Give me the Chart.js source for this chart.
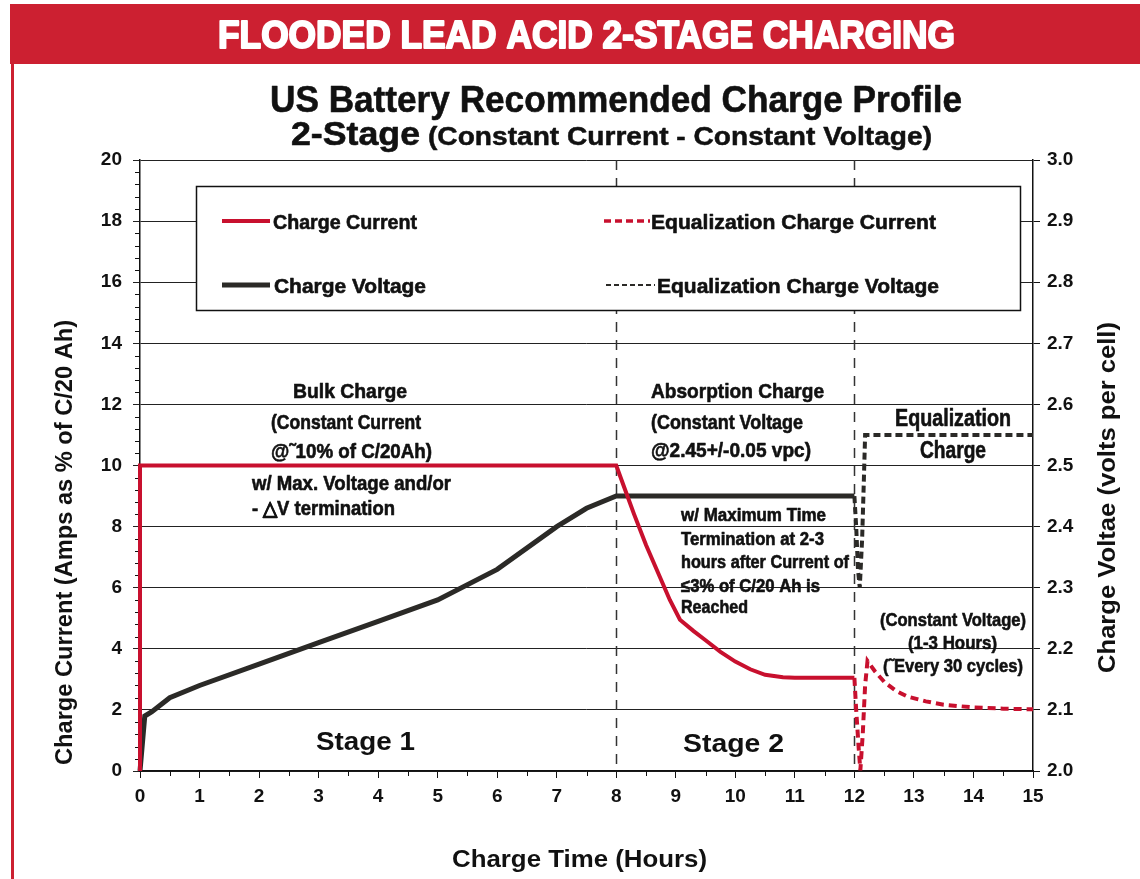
<!DOCTYPE html>
<html lang="en">
<head>
<meta charset="UTF-8">
<title>Flooded Lead Acid 2-Stage Charging</title>
<script src="https://cdn.jsdelivr.net/npm/chart.js"></script>
<style>
  html, body { margin: 0; padding: 0; background: #fff; }
  canvas { display: block; }
</style>
</head>
<body>
<canvas id="chargeChart" width="1140" height="879"></canvas>
<script>
// charge current, amps as % of C/20 Ah, against charge time in hours
const currentHours = [0, 0, 8, 8.15, 8.3, 8.5, 8.7, 8.9, 9.07, 9.3, 9.5, 9.75, 10, 10.25, 10.5, 10.8, 11, 12];
const currentAmps  = [0, 10, 10, 9.2, 8.4, 7.4, 6.5, 5.6, 4.95, 4.58, 4.28, 3.9, 3.58, 3.33, 3.15, 3.07, 3.05, 3.05];

const eqCurrentHours = [12, 12.03, 12.07, 12.1, 12.14, 12.18, 12.22, 12.35, 12.5, 12.7, 12.9, 13.2, 13.5, 14, 14.5, 15];
const eqCurrentAmps  = [3.05, 2.0, 0.8, 0.02, 1.2, 2.8, 3.6, 3.25, 2.92, 2.62, 2.43, 2.28, 2.17, 2.08, 2.04, 2.02];

// charge voltage, volts per cell
const voltageHours = [0, 0.08, 0.2, 0.5, 1, 2, 3, 4, 5, 6, 7, 7.5, 8, 12];
const voltageVpc   = [2.0, 2.09, 2.097, 2.12, 2.14, 2.175, 2.21, 2.245, 2.28, 2.33, 2.40, 2.43, 2.45, 2.45];

const eqVoltageHours = [12, 12.03, 12.06, 12.09, 12.13, 12.16, 12.18, 15];
const eqVoltageVpc   = [2.45, 2.40, 2.33, 2.30, 2.38, 2.48, 2.55, 2.55];

// stage boundaries (hours)
const stageBounds = [8, 12];

// axis ticks
const hourTicks = [0, 15, 1, 0.5];     // min, max, major step, minor step
const ampTicks  = [0, 20, 2, 0.4];
const voltTicks = [2.0, 3.0, 0.1];

const RED = '#C8102E';
const BANNER = '#CC2031';
const DARK = '#2B2A27';
const INK = '#111';
const SANS = "'Liberation Sans', Arial, sans-serif";
const NARROW = "'Liberation Sans Narrow', 'Liberation Sans', Arial, sans-serif";

// text drawn squeezed to the width measured on the reference
function drawText(ctx, t) {
  ctx.save();
  ctx.font = 'bold ' + t.size + 'px ' + (t.narrow ? NARROW : SANS);
  ctx.textBaseline = 'alphabetic';
  ctx.textAlign = 'left';
  const m = ctx.measureText(t.text).width;
  ctx.translate(t.x, t.y);
  if (t.rot) ctx.rotate(-Math.PI / 2);
  ctx.scale(t.w / m, 1);
  ctx.fillStyle = t.color || INK;
  ctx.fillText(t.text, 0, 0.36 * t.size);
  if (t.heavy) {
    ctx.strokeStyle = t.color || INK;
    ctx.lineWidth = t.heavy;
    ctx.lineJoin = 'round';
    ctx.strokeText(t.text, 0, 0.36 * t.size);
  }
  ctx.restore();
}

const headerTexts = [
  { text: 'FLOODED LEAD ACID 2-STAGE CHARGING', x: 218, y: 34, w: 737, size: 38, color: '#fff', heavy: 2 },
  { text: 'US Battery Recommended Charge Profile', x: 270, y: 98.5, w: 692, size: 37, narrow: true, heavy: 0.6 },
  { text: '2-Stage', x: 291, y: 133, w: 129, size: 34, narrow: true, heavy: 0.6 },
  { text: '(Constant Current - Constant Voltage)', x: 428, y: 135.5, w: 504, size: 26, narrow: true, heavy: 0.5 },
  { text: 'Charge Current (Amps as % of C/20 Ah)', x: 63.5, y: 765, w: 445, size: 24, rot: true },
  { text: 'Charge Voltae (volts per cell)', x: 1106, y: 673, w: 351, size: 24, rot: true },
  { text: 'Charge Time (Hours)', x: 452, y: 858, w: 255, size: 24 }
];

const noteTexts = [
  { text: 'Bulk Charge', x: 293, y: 390, w: 114, size: 21 },
  { text: '(Constant Current', x: 271, y: 422, w: 150, size: 20 },
  { text: '@\u02DC10% of C/20Ah)', x: 271, y: 451, w: 161, size: 20 },
  { text: 'w/ Max. Voltage and/or', x: 252, y: 483, w: 199, size: 20 },
  { text: '- \u25B3V termination', x: 252, y: 508, w: 143, size: 20 },
  { text: 'Absorption Charge', x: 651, y: 390, w: 173, size: 21 },
  { text: '(Constant Voltage', x: 651, y: 422, w: 152, size: 20 },
  { text: '@2.45+/-0.05 vpc)', x: 651, y: 450, w: 160, size: 20 },
  { text: 'w/ Maximum Time', x: 681, y: 515, w: 145, size: 18 },
  { text: 'Termination at 2-3', x: 681, y: 539, w: 143, size: 18 },
  { text: 'hours after Current of', x: 681, y: 562, w: 168, size: 18 },
  { text: '\u22643% of C/20 Ah is', x: 681, y: 586, w: 139, size: 18 },
  { text: 'Reached', x: 681, y: 607, w: 67, size: 18 },
  { text: 'Equalization', x: 895, y: 418, w: 116, size: 23 },
  { text: 'Charge', x: 920, y: 450, w: 66, size: 23 },
  { text: '(Constant Voltage)', x: 880, y: 619, w: 146, size: 19 },
  { text: '(1-3 Hours)', x: 908, y: 642, w: 89, size: 19 },
  { text: '(\u02DCEvery 30 cycles)', x: 883, y: 665, w: 140, size: 19 }
].map(t => Object.assign({ narrow: true, heavy: 0.6 }, t)).concat([
  { text: 'Stage 1', x: 316, y: 741, w: 99, size: 26 },
  { text: 'Stage 2', x: 683, y: 743, w: 101, size: 26 }
]);

const legendItems = [
  { text: 'Charge Current', x: 273, y: 221, w: 144, line: [222, 270], color: RED, width: 4, dash: [] },
  { text: 'Equalization Charge Current', x: 651, y: 221, w: 285, line: [604, 650], color: RED, width: 3.5, dash: [7, 4] },
  { text: 'Charge Voltage', x: 274, y: 285, w: 152, line: [222, 270], color: DARK, width: 5, dash: [] },
  { text: 'Equalization Charge Voltage', x: 657, y: 285, w: 282, line: [606, 655], color: DARK, width: 2, dash: [5, 3] }
];

const decorPlugin = {
  id: 'decor',
  beforeDraw(chart) {
    const ctx = chart.ctx;
    ctx.save();
    ctx.fillStyle = '#fff';
    ctx.fillRect(0, 0, chart.width, chart.height);
    ctx.restore();
  },
  beforeDatasetsDraw(chart) {
    const ctx = chart.ctx;
    const area = chart.chartArea;
    const xs = chart.scales.x, ys = chart.scales.y;
    ctx.save();
    // minor ticks
    ctx.strokeStyle = INK;
    ctx.lineWidth = 1;
    ctx.beginPath();
    for (let v = ampTicks[0]; v <= ampTicks[1] + 1e-6; v += ampTicks[3]) {
      if (Math.abs(v / ampTicks[2] - Math.round(v / ampTicks[2])) < 1e-6) continue;
      const py = Math.round(ys.getPixelForValue(v)) + 0.5;
      ctx.moveTo(area.left - 5, py);
      ctx.lineTo(area.left, py);
    }
    for (let v = hourTicks[0]; v <= hourTicks[1] + 1e-6; v += hourTicks[3]) {
      if (Math.abs(v / hourTicks[2] - Math.round(v / hourTicks[2])) < 1e-6) continue;
      const px = Math.round(xs.getPixelForValue(v)) + 0.5;
      ctx.moveTo(px, area.bottom);
      ctx.lineTo(px, area.bottom + 5);
    }
    ctx.stroke();
    // stage boundaries
    ctx.strokeStyle = '#333';
    ctx.lineWidth = 1.5;
    ctx.setLineDash([10, 8]);
    ctx.beginPath();
    stageBounds.forEach(h => {
      const px = Math.round(xs.getPixelForValue(h)) + 0.5;
      ctx.moveTo(px, area.top);
      ctx.lineTo(px, area.bottom);
    });
    ctx.stroke();
    ctx.setLineDash([]);
    // legend box
    ctx.fillStyle = '#fff';
    ctx.fillRect(196, 186, 824, 124);
    ctx.strokeStyle = INK;
    ctx.lineWidth = 1.5;
    ctx.strokeRect(196.5, 186.5, 824, 124);
    legendItems.forEach(it => {
      ctx.strokeStyle = it.color;
      ctx.lineWidth = it.width;
      ctx.setLineDash(it.dash);
      ctx.beginPath();
      ctx.moveTo(it.line[0], it.y);
      ctx.lineTo(it.line[1], it.y);
      ctx.stroke();
      ctx.setLineDash([]);
      drawText(ctx, { text: it.text, x: it.x, y: it.y, w: it.w, size: 21, narrow: true, heavy: 0.6 });
    });
    ctx.restore();
    noteTexts.forEach(t => drawText(ctx, t));
  },
  afterDraw(chart) {
    const ctx = chart.ctx;
    ctx.save();
    ctx.fillStyle = BANNER;
    ctx.fillRect(10, 4, 1130, 60);
    ctx.fillRect(11, 60, 3, 819);
    ctx.restore();
    headerTexts.forEach(t => drawText(ctx, t));
  }
};

const pts = (xs, ys) => xs.map((x, i) => ({ x: x, y: ys[i] }));
const tickFont = { family: SANS, size: 19, weight: 'bold' };

new Chart(document.getElementById('chargeChart'), {
  type: 'line',
  data: {
    datasets: [
      { label: 'Charge Current', data: pts(currentHours, currentAmps), yAxisID: 'y',
        borderColor: RED, borderWidth: 4 },
      { label: 'Equalization Charge Current', data: pts(eqCurrentHours, eqCurrentAmps), yAxisID: 'y',
        borderColor: RED, borderWidth: 4, borderDash: [8, 5] },
      { label: 'Charge Voltage', data: pts(voltageHours, voltageVpc), yAxisID: 'y2',
        borderColor: DARK, borderWidth: 5 },
      { label: 'Equalization Charge Voltage', data: pts(eqVoltageHours, eqVoltageVpc), yAxisID: 'y2',
        borderColor: DARK, borderWidth: 4, borderDash: [7, 4] }
    ]
  },
  options: {
    responsive: false,
    animation: false,
    devicePixelRatio: 1,
    layout: { padding: { top: 160, left: 0, right: 0, bottom: 0 } },
    elements: {
      point: { radius: 0 },
      line: { tension: 0, fill: false, borderCapStyle: 'butt', borderJoinStyle: 'miter' }
    },
    datasets: { line: { clip: false } },
    plugins: { legend: { display: false }, tooltip: { enabled: false } },
    scales: {
      x: {
        type: 'linear', min: hourTicks[0], max: hourTicks[1],
        ticks: { stepSize: hourTicks[2], color: INK, font: tickFont, padding: 7, maxRotation: 0 },
        grid: { drawOnChartArea: false, drawTicks: true, tickLength: 7, color: INK },
        border: { color: INK, width: 1.5 },
        afterFit(s) { s.height = 108; }
      },
      y: {
        position: 'left', min: ampTicks[0], max: ampTicks[1],
        ticks: { stepSize: ampTicks[2], color: INK, font: tickFont, padding: 11 },
        grid: { color: '#222', lineWidth: 1, tickLength: 7 },
        border: { color: INK, width: 1.5 },
        afterFit(s) { s.width = 140; }
      },
      y2: {
        position: 'right', min: voltTicks[0], max: voltTicks[1],
        ticks: { stepSize: voltTicks[2], color: INK, font: tickFont, padding: 7,
                 callback: v => Number(v).toFixed(1) },
        grid: { drawOnChartArea: false, drawTicks: true, tickLength: 7, color: INK },
        border: { color: INK, width: 1.5 },
        afterFit(s) { s.width = 107; }
      }
    }
  },
  plugins: [decorPlugin]
});
</script>
</body>
</html>
